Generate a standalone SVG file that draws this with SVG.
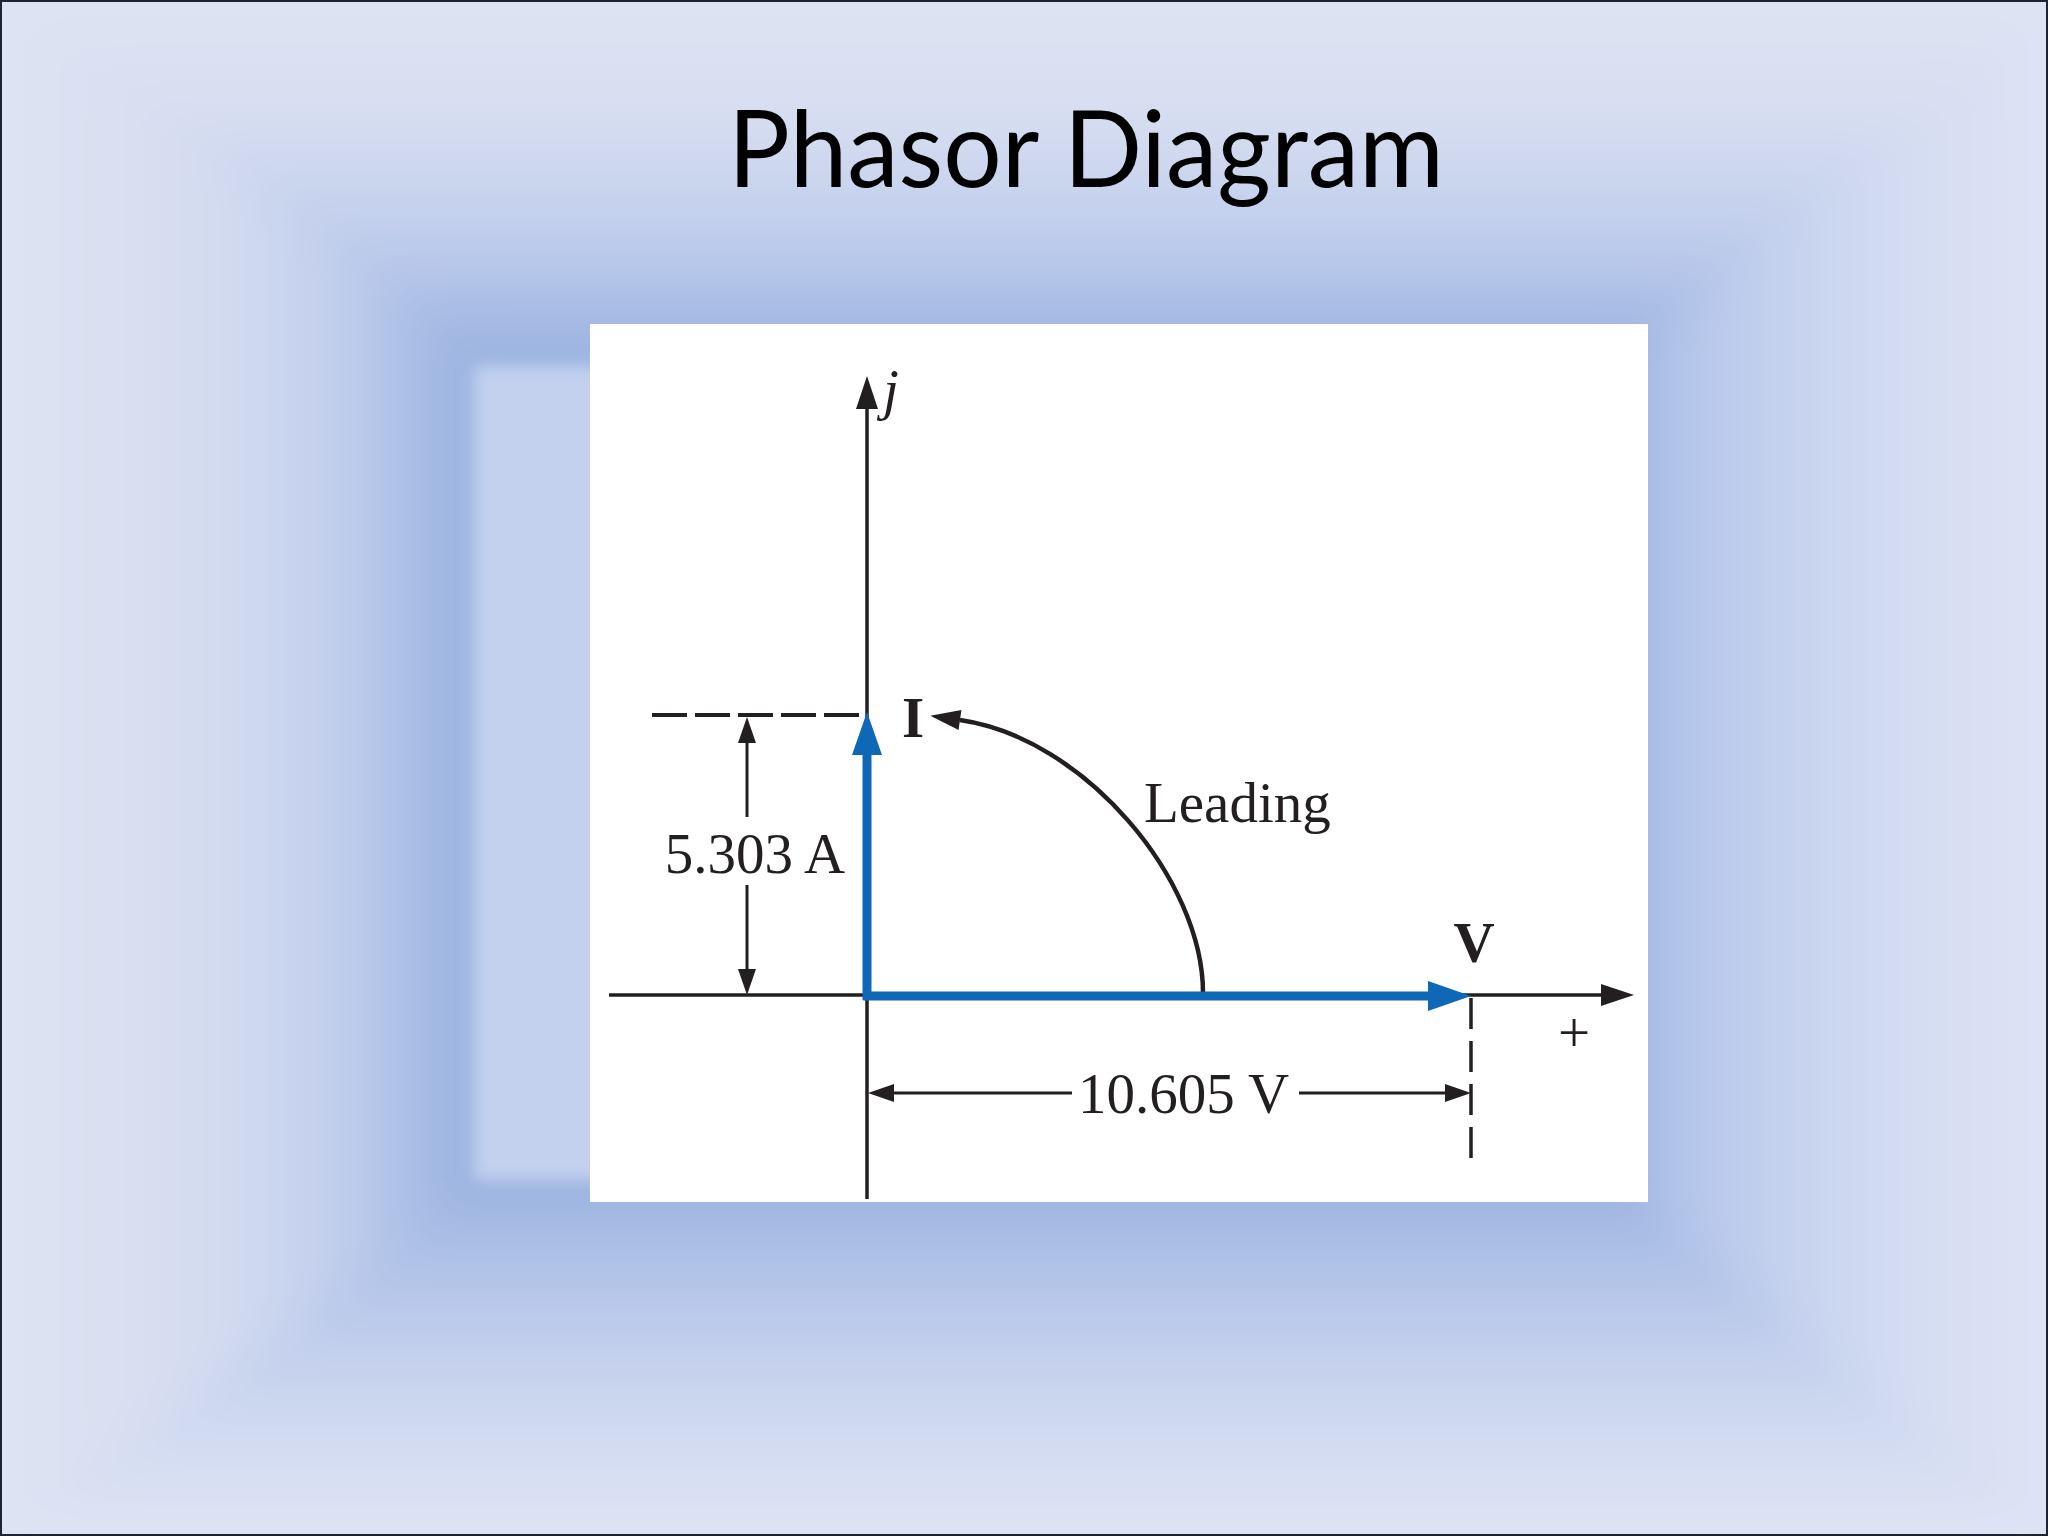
<svg xmlns="http://www.w3.org/2000/svg" width="2048" height="1536" viewBox="0 0 2048 1536">
<style>
.ink{stroke:#231F20;fill:none}
.ax{stroke-width:3.5}
.dim{stroke-width:3}
.dash{stroke-width:4;stroke-dasharray:35 8}
.vec{stroke:#0F67B8;stroke-width:9;fill:none}
.lbl{font-family:"Liberation Serif","Times New Roman",serif;fill:#231F20;font-size:57px}
.title{font-family:Lato,"Open Sans","Liberation Sans",sans-serif;fill:#000;font-size:107px}
</style>
<defs>
<linearGradient id="gL" gradientUnits="userSpaceOnUse" x1="0" y1="0" x2="455" y2="0">
<stop offset="0" stop-color="#DEE3F3"/><stop offset="0.3" stop-color="#D9DFF1"/><stop offset="0.55" stop-color="#CFD9EF"/><stop offset="0.75" stop-color="#C0CDEC"/><stop offset="0.88" stop-color="#AFC1E7"/><stop offset="1" stop-color="#9BB4E0"/>
</linearGradient>
<linearGradient id="gT" gradientUnits="userSpaceOnUse" x1="0" y1="0" x2="0" y2="345">
<stop offset="0" stop-color="#DEE3F3"/><stop offset="0.3" stop-color="#D8DFF1"/><stop offset="0.55" stop-color="#C9D4EE"/><stop offset="0.75" stop-color="#BAC9EA"/><stop offset="0.88" stop-color="#AABDE5"/><stop offset="1" stop-color="#9DB5E1"/>
</linearGradient>
<linearGradient id="gR" gradientUnits="userSpaceOnUse" x1="2048" y1="0" x2="1648" y2="0">
<stop offset="0" stop-color="#DEE3F4"/><stop offset="0.3" stop-color="#D6DEF2"/><stop offset="0.55" stop-color="#CBD6F0"/><stop offset="0.8" stop-color="#BCCBEC"/><stop offset="1" stop-color="#AEC0E8"/>
</linearGradient>
<linearGradient id="gB" gradientUnits="userSpaceOnUse" x1="0" y1="1536" x2="0" y2="1203">
<stop offset="0" stop-color="#DEE4F4"/><stop offset="0.3" stop-color="#D1DBF1"/><stop offset="0.6" stop-color="#C0CDEC"/><stop offset="0.85" stop-color="#ADC0E6"/><stop offset="1" stop-color="#A0B7E2"/>
</linearGradient>
<filter id="frameBlur" filterUnits="userSpaceOnUse" x="-300" y="-300" width="2648" height="2136"><feGaussianBlur stdDeviation="22"/></filter>
<filter id="soft" x="-10%" y="-10%" width="120%" height="120%"><feGaussianBlur stdDeviation="8"/></filter>
<marker id="ahAxis" markerUnits="userSpaceOnUse" markerWidth="34" markerHeight="24" refX="0" refY="12" orient="auto" overflow="visible"><path d="M0,1 L33,12 L0,23 z" fill="#231F20"/></marker>
<marker id="ahDim" markerUnits="userSpaceOnUse" markerWidth="27" markerHeight="18" refX="0" refY="9" orient="auto" overflow="visible"><path d="M0,0 L26,9 L0,18 z" fill="#231F20"/></marker>
<marker id="ahArc" markerUnits="userSpaceOnUse" markerWidth="31" markerHeight="20" refX="0" refY="10" orient="auto" overflow="visible"><path d="M0,0 L30,10 L0,20 z" fill="#231F20"/></marker>
<marker id="ahBlue" markerUnits="userSpaceOnUse" markerWidth="44" markerHeight="30" refX="0" refY="15" orient="auto" overflow="visible"><path d="M0,0 L43,15 L0,30 z" fill="#0F67B8"/></marker>
</defs>

<g id="background">
<g filter="url(#frameBlur)">
<rect x="-300" y="-300" width="2648" height="2136" fill="#DEE3F3"/>
<polygon points="-300,-227 455,345 455,1203 -300,1756" fill="url(#gL)"/>
<polygon points="-300,-227 2348,-259 1648,345 455,345" fill="url(#gT)"/>
<polygon points="2348,-259 2348,1786 1648,1203 1648,345" fill="url(#gR)"/>
<polygon points="-300,1756 455,1203 1648,1203 2348,1786" fill="url(#gB)"/>
<rect x="455" y="345" width="1193" height="858" fill="#9BB4E0"/>
</g>
<rect x="474" y="366" width="1160" height="814" fill="#C3D1EF" filter="url(#soft)"/>
<rect x="1" y="1" width="2046" height="1534" fill="none" stroke="#1E2430" stroke-width="2"/>
</g>

<g id="title">
<text class="title" x="728" y="187" textLength="716" lengthAdjust="spacingAndGlyphs">Phasor Diagram</text>
</g>

<g id="plot-area">
<rect x="590" y="324" width="1058" height="878" fill="#FFFFFF"/>
</g>

<g id="connectors">
<path class="ink ax" d="M867,1199 L867,409" marker-end="url(#ahAxis)"/>
<path class="ink ax" d="M609,995 L1601,995" marker-end="url(#ahAxis)"/>
<path class="ink dash" d="M652,715 L864,715"/>
<path class="ink" d="M1471,998 L1471,1165" stroke-width="3.5" stroke-dasharray="31 12"/>
<path class="ink dim" d="M747,817 L747,743" marker-end="url(#ahDim)"/>
<path class="ink dim" d="M747,885 L747,969" marker-end="url(#ahDim)"/>
<path class="ink dim" d="M1072,1093 L894,1093" marker-end="url(#ahDim)"/>
<path class="ink dim" d="M1299,1093 L1445,1093" marker-end="url(#ahDim)"/>
<path class="ink" stroke-width="4.5" d="M1203,993 C1203,880 1085,738 960,720" marker-end="url(#ahArc)"/>
<path class="vec" d="M867,1000 L867,755" marker-end="url(#ahBlue)"/>
<path class="vec" d="M863,996 L1428,996" marker-end="url(#ahBlue)"/>
</g>

<g id="label-j"><text class="lbl" x="883" y="409" font-style="italic" font-size="52">j</text></g>
<g id="label-I"><text class="lbl" x="902" y="737" font-weight="bold">I</text></g>
<g id="label-leading"><text class="lbl" x="1144" y="822" font-size="58">Leading</text></g>
<g id="label-current"><text class="lbl" x="755" y="873" text-anchor="middle">5.303 A</text></g>
<g id="label-V"><text class="lbl" x="1474" y="962" text-anchor="middle" font-weight="bold">V</text></g>
<g id="label-plus"><text class="lbl" x="1574" y="1052" text-anchor="middle" font-size="62">+</text></g>
<g id="label-voltage"><text class="lbl" x="1078" y="1113">10.605 V</text></g>
</svg>
